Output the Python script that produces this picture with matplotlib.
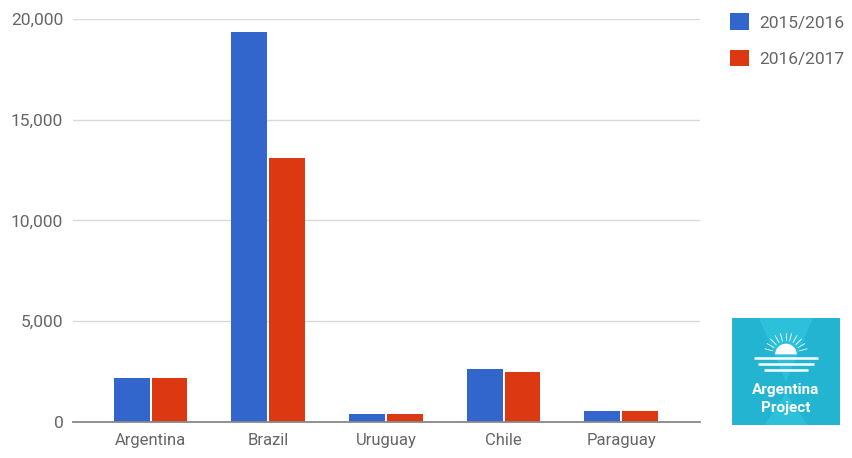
import matplotlib.pyplot as plt
import matplotlib.patches as mpatches
from matplotlib.ticker import FuncFormatter
import numpy as np

plt.rcParams['font.family'] = ['Roboto', 'DejaVu Sans']

countries = ['Argentina', 'Brazil', 'Uruguay', 'Chile', 'Paraguay']
season_1516 = [2180, 19350, 400, 2630, 550]
season_1617 = [2180, 13100, 400, 2480, 550]
series_labels = ['2015/2016', '2016/2017']
colors = ['#3366cc', '#dc3912']

fig = plt.figure(figsize=(8.52, 4.58), dpi=100)
ax = fig.add_axes([0.0857, 0.0786, 0.736, 0.88])

x = np.arange(len(countries))
w = 0.305
b1 = ax.bar(x - w / 2 - 0.008, season_1516, w, color=colors[0], zorder=3)
b2 = ax.bar(x + w / 2 + 0.008, season_1617, w, color=colors[1], zorder=3)

ax.set_xlim(-0.66, 4.67)
ax.set_ylim(0, 20000)
ax.set_yticks([0, 5000, 10000, 15000, 20000])
ax.yaxis.set_major_formatter(FuncFormatter(lambda v, p: f'{int(v):,}'))
ax.set_xticks(x)
ax.set_xticklabels(countries)
ax.grid(axis='y', color='#d9d9d9', linewidth=1, zorder=0)
for s in ['top', 'right', 'left']:
    ax.spines[s].set_visible(False)
ax.spines['bottom'].set_color('#888888')
ax.spines['bottom'].set_linewidth(1.3)
ax.spines['bottom'].set_zorder(4)
ax.tick_params(axis='both', length=0, labelsize=12, colors='#666666', pad=8)
ax.tick_params(axis='y', labelsize=12.5, pad=7)

fig.legend([b1, b2], series_labels, loc='upper left', bbox_to_anchor=(0.838, 1.005),
           frameon=False, fontsize=12.5, labelcolor='#666666', handlelength=1.1,
           handleheight=1.1, labelspacing=1.1, handletextpad=0.6)

# logo
logo = fig.add_axes([732 / 852, 1 - 425 / 458, 108 / 852, 107 / 458])
logo.set_facecolor('#22b4d0')
logo.set_xlim(0, 1)
logo.set_ylim(0, 1)
logo.set_xticks([])
logo.set_yticks([])
for s in logo.spines.values():
    s.set_visible(False)
logo.add_patch(mpatches.Polygon([[0.25, 1], [0.5, 0.4], [0.75, 1]], closed=True,
                                facecolor='#2cc0da', edgecolor='none'))
logo.add_patch(mpatches.Polygon([[0.3, 0], [0.5, 0.3], [0.7, 0]], closed=True,
                                facecolor='#2cc0da', edgecolor='none'))
logo.add_patch(mpatches.Wedge((0.5, 0.66), 0.1, 0, 180, facecolor='white'))
for a in np.linspace(15, 165, 11):
    r = np.deg2rad(a)
    logo.plot([0.5 + 0.13 * np.cos(r), 0.5 + 0.2 * np.cos(r)],
              [0.66 + 0.13 * np.sin(r), 0.66 + 0.2 * np.sin(r)], color='white', lw=0.6)
for yy, hw in [(0.63, 0.3), (0.57, 0.26), (0.51, 0.2)]:
    logo.plot([0.5 - hw, 0.5 + hw], [yy, yy], color='white', lw=1.8, solid_capstyle='butt')
logo.text(0.5, 0.33, 'Argentina', color='white', fontsize=11, fontweight='bold',
          ha='center', va='center')
logo.text(0.5, 0.16, 'Project', color='white', fontsize=11, fontweight='bold',
          ha='center', va='center')

fig.savefig('out.png', dpi=100)
